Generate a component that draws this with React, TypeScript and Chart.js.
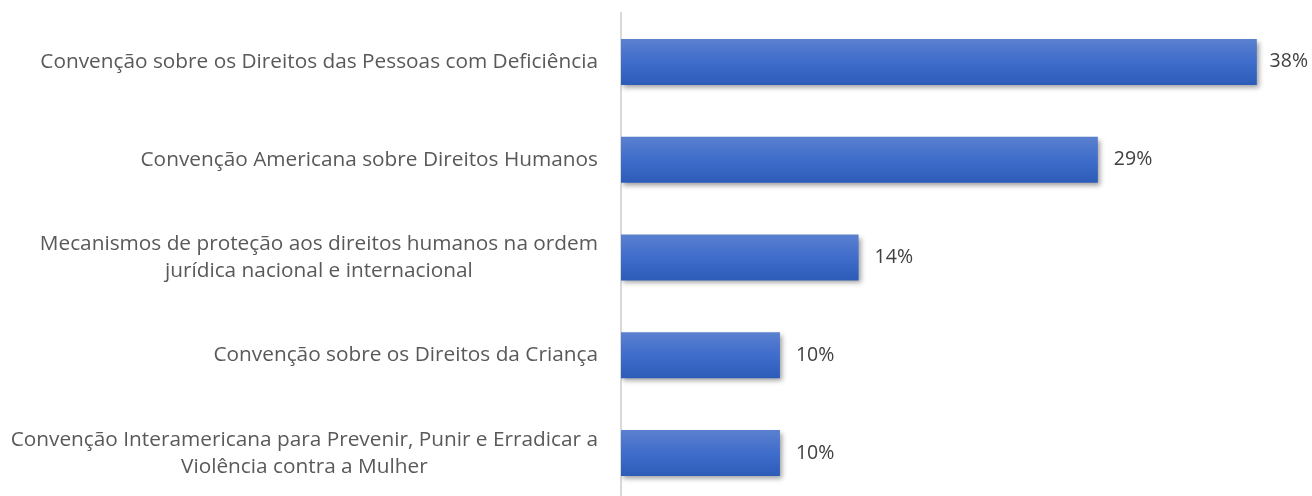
import React, { useEffect, useRef } from "react";
import { Chart, registerables } from "chart.js";

Chart.register(...registerables);

const categories: (string | string[])[] = [
  "Convenção sobre os Direitos das Pessoas com Deficiência",
  "Convenção Americana sobre Direitos Humanos",
  ["Mecanismos de proteção aos direitos humanos na ordem", "jurídica nacional e internacional"],
  "Convenção sobre os Direitos da Criança",
  ["Convenção Interamericana para Prevenir, Punir e Erradicar a", "Violência contra a Mulher"],
];
const values = [38, 28.5, 14.2, 9.5, 9.5];
const xMax = 41;

const FONT = "'Open Sans', sans-serif";
const LABEL_SIZE = 20.8;
const VALUE_SIZE = 19.5;
const TEXT_COLOR = "#595959";

const W = 1312;
const H = 502;

export default function App() {
  const ref = useRef<HTMLCanvasElement | null>(null);

  useEffect(() => {
    const canvas = ref.current;
    if (!canvas) return;

    const shadowPlugin = {
      id: "barShadow",
      beforeDatasetsDraw(chart: any) {
        const c = chart.ctx;
        c.save();
        c.shadowColor = "rgba(0,0,0,0.38)";
        c.shadowBlur = 5;
        c.shadowOffsetX = 2;
        c.shadowOffsetY = 3;
      },
      afterDatasetsDraw(chart: any) {
        chart.ctx.restore();
      },
    };

    const labelPlugin = {
      id: "labels",
      afterDraw(chart: any) {
        const c = chart.ctx;
        const y = chart.scales.y;
        const x = chart.scales.x;
        c.save();
        c.font = `${LABEL_SIZE}px ${FONT}`;
        c.fillStyle = TEXT_COLOR;
        c.textBaseline = "middle";
        c.textAlign = "center";
        const rightEdge = 598;
        const lh = 27;
        categories.forEach((cat, i) => {
          const lines = Array.isArray(cat) ? cat : [cat];
          const bw = Math.max(...lines.map((l) => c.measureText(l).width));
          const cx = rightEdge - bw / 2;
          const cy = y.getPixelForTick(i);
          lines.forEach((l, j) => {
            c.fillText(l, cx, cy + (j - (lines.length - 1) / 2) * lh);
          });
        });
        c.font = `${VALUE_SIZE}px ${FONT}`;
        c.fillStyle = "#404040";
        c.textAlign = "left";
        values.forEach((v, i) => {
          const txt = `${Math.round(v)}%`;
          const tw = c.measureText(txt).width;
          const end = x.getPixelForValue(v);
          const px = Math.min(end + 16, chart.width - 4 - tw);
          c.fillText(txt, px, y.getPixelForValue(i));
        });
        c.restore();
      },
    };

    const chart = new Chart(canvas, {
      type: "bar",
      data: {
        labels: categories.map((c) => (Array.isArray(c) ? c.join(" ") : c)),
        datasets: [
          {
            data: values,
            categoryPercentage: 1,
            barPercentage: 0.47,
            borderWidth: 0,
            backgroundColor: (ctx: any) => {
              const chart = ctx.chart;
              const ys = chart.scales && chart.scales.y;
              if (!ys || ctx.dataIndex === undefined) return "#3e6ccb";
              const cy = ys.getPixelForValue(ctx.dataIndex);
              if (!isFinite(cy)) return "#3e6ccb";
              const g = chart.ctx.createLinearGradient(0, cy - 23, 0, cy + 23);
              g.addColorStop(0, "#5b80cf");
              g.addColorStop(0.5, "#3f6dcb");
              g.addColorStop(1, "#2c5bb8");
              return g;
            },
          },
        ],
      },
      options: {
        indexAxis: "y",
        responsive: false,
        animation: false,
        events: [],
        layout: { padding: { top: 13, right: 5, bottom: 0, left: 0 } },
        plugins: { legend: { display: false }, tooltip: { enabled: false } },
        scales: {
          x: { display: false, min: 0, max: xMax },
          y: {
            ticks: { display: false },
            grid: { display: false },
            border: { display: true, color: "#d9d9d9", width: 2 },
            afterFit(scale: any) {
              scale.width = 621;
            },
          },
        },
      },
      plugins: [shadowPlugin, labelPlugin],
    } as any);

    return () => chart.destroy();
  }, []);

  return (
    <div
      style={{
        position: "fixed",
        left: 0,
        top: 0,
        width: W,
        height: 496,
        overflow: "hidden",
        background: "#fff",
      }}
    >
      <canvas ref={ref} width={W} height={H} style={{ width: W, height: H, display: "block" }} />
    </div>
  );
}
